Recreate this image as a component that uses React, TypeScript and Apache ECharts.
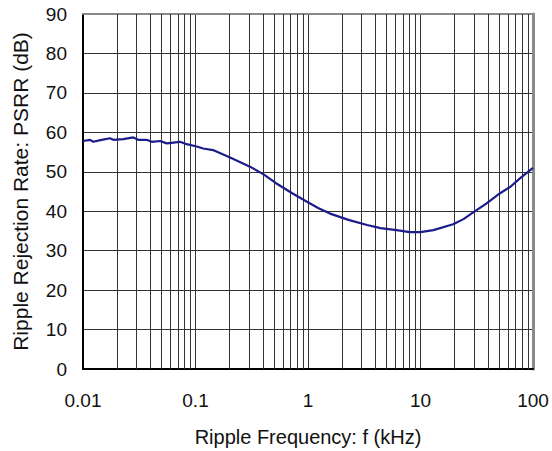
import React, { useEffect, useRef } from "react";
import * as echarts from "echarts";

// Ripple frequency (kHz) and PSRR (dB)
const freqKHz = [
  0.01, 0.01154, 0.01235, 0.01466, 0.01738, 0.01859, 0.0228, 0.028, 0.031,
  0.0368, 0.0408, 0.0484, 0.0555, 0.0728, 0.0835, 0.1025, 0.117, 0.143,
  0.203, 0.305, 0.40, 0.52, 0.73, 0.98, 1.23, 1.57, 2.29, 3.35, 4.4, 6.14,
  8.0, 10, 13, 19.5, 24.1, 29.4, 38.7, 50.6, 63, 77, 100,
];
const psrrDb = [
  57.8, 58.1, 57.6, 58.1, 58.5, 58.1, 58.3, 58.7, 58.1,
  58.1, 57.6, 57.8, 57.2, 57.6, 57.0, 56.4, 55.9, 55.5,
  53.6, 51.3, 49.4, 47.1, 44.5, 42.4, 40.8, 39.4, 37.8, 36.5, 35.7, 35.2,
  34.7, 34.7, 35.2, 36.7, 38.0, 39.7, 42.0, 44.5, 46.2, 48.4, 51.0,
];

const xTickValues = [0.01, 0.1, 1, 10, 100];
const xTickLabels = ["0.01", "0.1", "1", "10", "100"];
const minorGridMultipliers = [2, 3, 4, 5, 6, 7, 8, 9];
const decades = [0.01, 0.1, 1, 10];

const xTitle = "Ripple Frequency: f (kHz)";
const yTitle = "Ripple Rejection Rate: PSRR (dB)";

export default function App() {
  const ref = useRef<HTMLDivElement>(null);

  useEffect(() => {
    if (!ref.current) return;
    const chart = echarts.init(ref.current, undefined, { renderer: "svg" });

    const minorLines: { xAxis: number }[] = [];
    decades.forEach((d) =>
      minorGridMultipliers.forEach((m) =>
        minorLines.push({ xAxis: Number((d * m).toPrecision(3)) })
      )
    );

    const font = "Liberation Sans";
    const gridColor = "#333";

    chart.setOption({
      animation: false,
      backgroundColor: "#fff",
      grid: {
        left: 83,
        right: 19,
        top: 14,
        bottom: 82,
        outerBoundsMode: "none",
        containLabel: false,
      },
      xAxis: [
        {
          type: "log",
          logBase: 10,
          min: 0.01,
          max: 100,
          position: "bottom",
          axisLine: { show: true, onZero: false, lineStyle: { color: "#000", width: 2 } },
          axisTick: { show: false },
          axisLabel: {
            color: "#111",
            fontFamily: font,
            fontSize: 19,
            margin: 22,
            formatter: (v: number) => {
              const i = xTickValues.findIndex((t) => Math.abs(Math.log10(t) - Math.log10(v)) < 1e-6);
              return i >= 0 ? xTickLabels[i] : "";
            },
          },
          splitLine: {
            show: true,
            showMinLine: false,
            showMaxLine: false,
            lineStyle: { color: gridColor, width: 1 },
          },
          minorTick: { show: false },
          minorSplitLine: { show: false },
          name: xTitle,
          nameLocation: "middle",
          nameGap: 58,
          nameTextStyle: { color: "#111", fontFamily: font, fontSize: 20 },
        },
        {
          type: "log",
          logBase: 10,
          min: 0.01,
          max: 100,
          position: "top",
          axisLine: { show: true, onZero: false, lineStyle: { color: "#8a8a8a", width: 2 } },
          axisTick: { show: false },
          axisLabel: { show: false },
          splitLine: { show: false },
        },
      ],
      yAxis: [
        {
          type: "value",
          min: 0,
          max: 90,
          interval: 10,
          position: "left",
          axisLine: { show: true, onZero: false, lineStyle: { color: "#000", width: 2 } },
          axisTick: { show: false },
          axisLabel: {
            color: "#111",
            fontFamily: font,
            fontSize: 19,
            margin: 16,
          },
          splitLine: {
            show: true,
            showMinLine: false,
            showMaxLine: false,
            lineStyle: { color: gridColor, width: 1 },
          },
          name: yTitle,
          nameLocation: "middle",
          nameGap: 52,
          nameTextStyle: { color: "#111", fontFamily: font, fontSize: 21 },
        },
        {
          type: "value",
          min: 0,
          max: 90,
          interval: 10,
          position: "right",
          axisLine: { show: true, onZero: false, lineStyle: { color: "#8a8a8a", width: 3 } },
          axisTick: { show: false },
          axisLabel: { show: false },
          splitLine: { show: false },
        },
      ],
      series: [
        {
          type: "line",
          xAxisIndex: 0,
          yAxisIndex: 0,
          data: freqKHz.map((f, i) => [f, psrrDb[i]]),
          showSymbol: false,
          symbol: "none",
          smooth: false,
          lineStyle: { color: "#1c1c8c", width: 2.2 },
          z: 5,
          markLine: {
            silent: true,
            symbol: ["none", "none"],
            label: { show: false },
            lineStyle: { color: gridColor, width: 1, type: "solid" },
            data: minorLines,
            animation: false,
          },
        },
      ],
    });

    return () => chart.dispose();
  }, []);

  return (
    <div
      ref={ref}
      style={{ position: "fixed", left: 0, top: 0, width: 552, height: 451 }}
    />
  );
}
